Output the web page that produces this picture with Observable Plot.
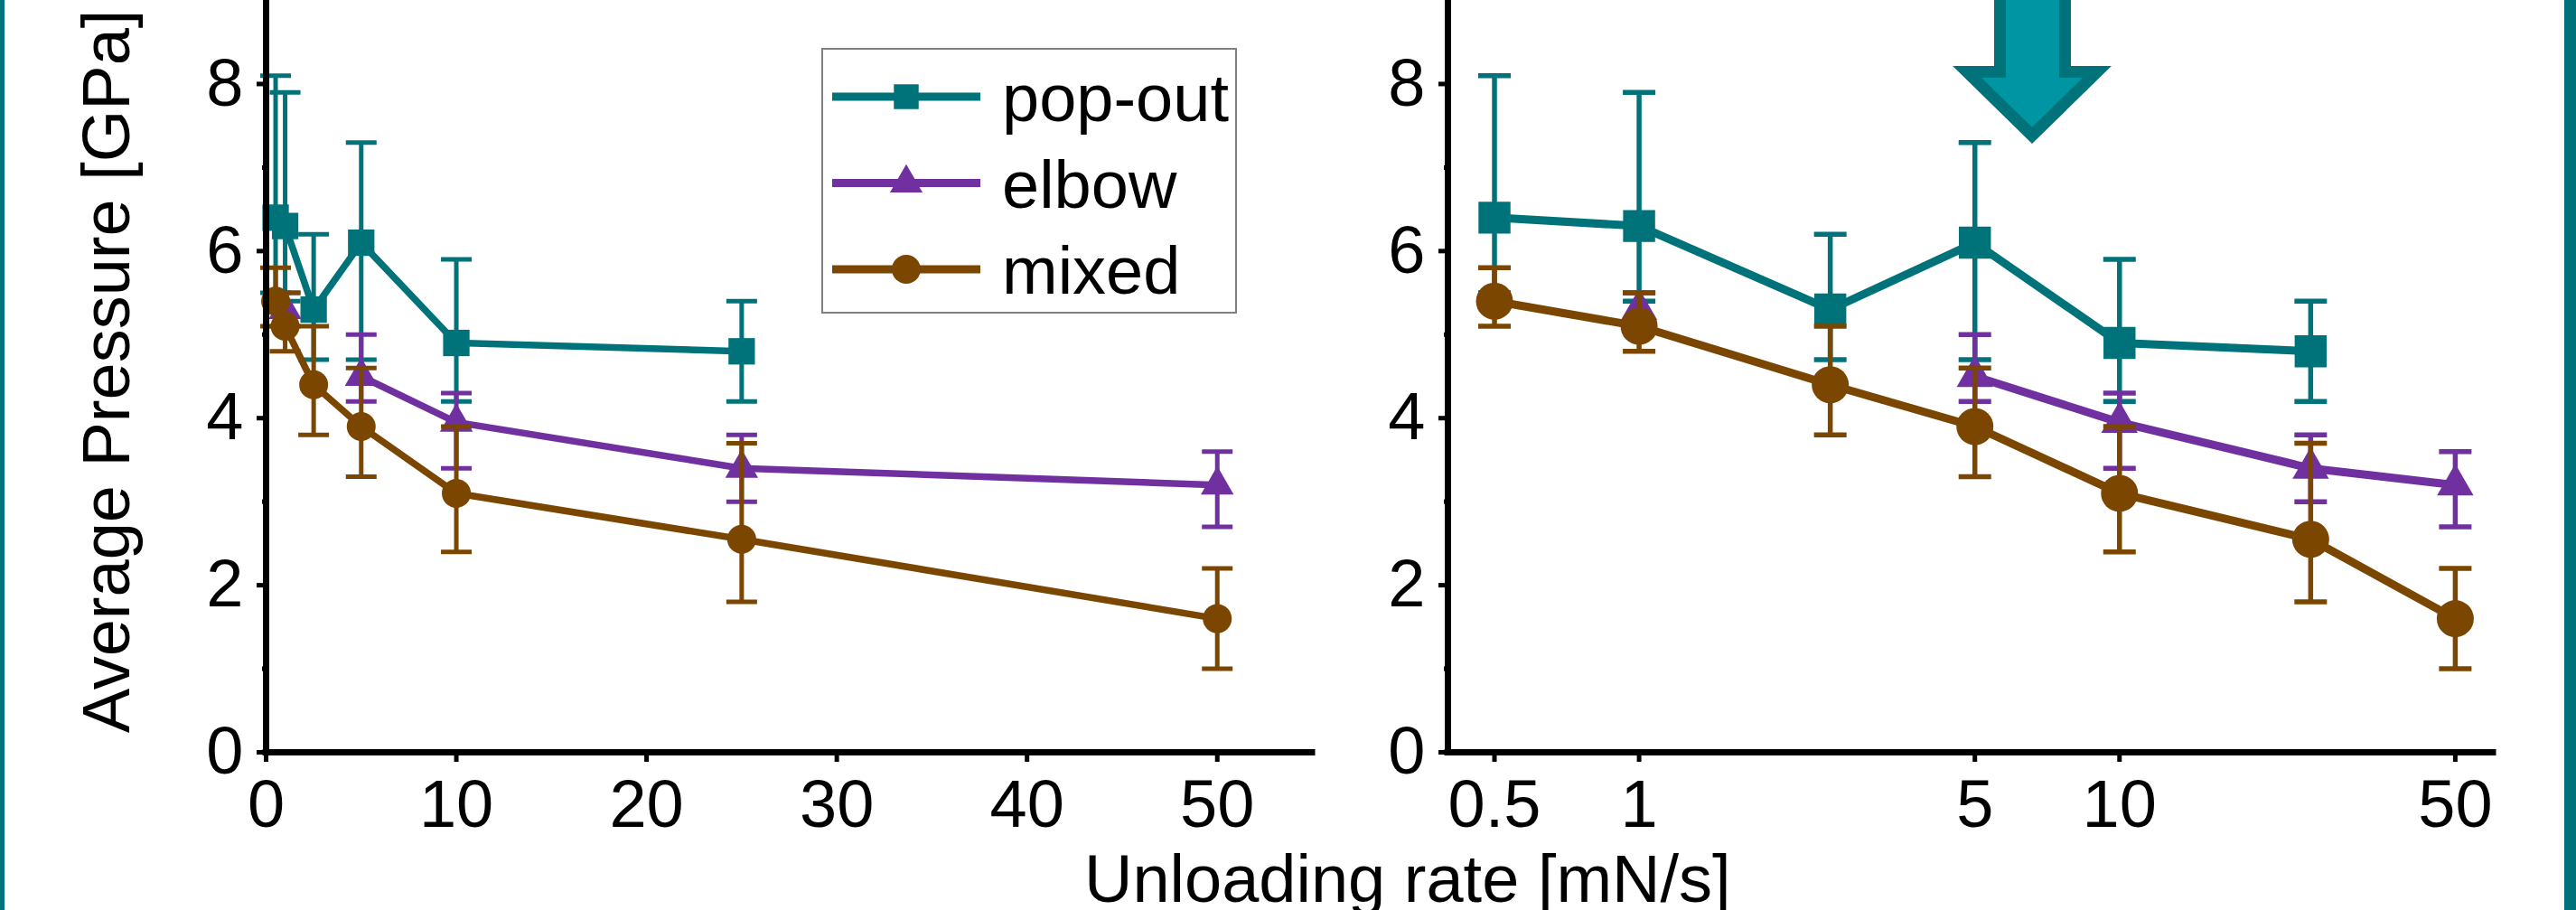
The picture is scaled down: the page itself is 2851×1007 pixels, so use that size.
<!DOCTYPE html>
<html><head><meta charset="utf-8">
<script src="https://cdn.jsdelivr.net/npm/d3@7"></script>
<script src="https://cdn.jsdelivr.net/npm/@observablehq/plot@0.6"></script>
<style>
html,body{margin:0;padding:0;background:#fff;}
#wrap{position:relative;width:2851px;height:1007px;overflow:hidden;background:#fff;font-family:"Liberation Sans",Arial,sans-serif;}
.layer{position:absolute;top:0;}
</style></head>
<body><div id="wrap"></div>
<script>
// ---- data ----
const popoutRate = [0.5, 1, 2.5, 5, 10, 25];
const popoutP    = [6.4, 6.3, 5.3, 6.1, 4.9, 4.8];
const popoutLo   = [5.5, 5.4, 4.7, 4.7, 4.2, 4.2];
const popoutHi   = [8.1, 7.9, 6.2, 7.3, 5.9, 5.4];

// elbow has no value at 2.5 mN/s (line is broken there)
const elbowRate = [1, 2.5, 5, 10, 25, 50];
const elbowP    = [5.3, null, 4.5, 3.95, 3.4, 3.2];
const elbowLo   = [5.1, null, 4.2, 3.4, 3.0, 2.7];
const elbowHi   = [5.5, null, 5.0, 4.3, 3.8, 3.6];

const mixedRate = [0.5, 1, 2.5, 5, 10, 25, 50];
const mixedP    = [5.4, 5.1, 4.4, 3.9, 3.1, 2.55, 1.6];
const mixedLo   = [5.1, 4.8, 3.8, 3.3, 2.4, 1.8, 1.0];
const mixedHi   = [5.8, 5.5, 5.1, 4.6, 3.9, 3.7, 2.2];

const seriesNames  = ["pop-out", "elbow", "mixed"];
const seriesColors = ["#00737A", "#7030A0", "#7B4600"];
const seriesSymbols = ["square", "triangle", "circle"];

const yMajor = [0, 2, 4, 6, 8];
const yMinor = [1, 3, 5, 7];
const linMajor = [0, 10, 20, 30, 40, 50];
const linMinor = [5, 15, 25, 35, 45, 55];
const logMajor = [0.5, 1, 5, 10, 50];
const logMinor = [0.6, 0.7, 0.8, 0.9, 2, 3, 4, 6, 7, 8, 9, 20, 30, 40, 60];

const yLabel = "Average Pressure [GPa]";
const xLabel = "Unloading rate [mN/s]";

// ---- build ----
function rows(name, rate, p, lo, hi) {
  return rate.map((x, i) => ({name, x, y: p[i], lo: lo[i], hi: hi[i]}));
}
const seriesList = [
  {data: rows("pop-out", popoutRate, popoutP, popoutLo, popoutHi)},
  {data: rows("elbow", elbowRate, elbowP, elbowLo, elbowHi)},
  {data: rows("mixed", mixedRate, mixedP, mixedLo, mixedHi)}
].map((s, i) => ({...s, name: seriesNames[i], color: seriesColors[i], symbol: seriesSymbols[i]}));

const capSymbol = {draw(ctx, size) { const r = Math.sqrt(size / Math.PI); ctx.moveTo(-r, 0); ctx.lineTo(r, 0); }};
const FONT = "Liberation Sans, Arial, sans-serif";

function panel({width, marginLeft, marginRight, xScale, xMajor, xMinor, lineW, errW, capR, sizes}) {
  const marks = [];
  for (const s of seriesList) {
    const d = s.data.filter(r => r.y != null);
    marks.push(Plot.ruleX(d, {x: "x", y1: "lo", y2: "hi", stroke: s.color, strokeWidth: errW}));
    marks.push(Plot.dot(d, {x: "x", y: "lo", symbol: capSymbol, r: capR, stroke: s.color, strokeWidth: errW, fill: "none"}));
    marks.push(Plot.dot(d, {x: "x", y: "hi", symbol: capSymbol, r: capR, stroke: s.color, strokeWidth: errW, fill: "none"}));
    marks.push(Plot.line(s.data, {x: "x", y: "y", stroke: s.color, strokeWidth: lineW}));
    marks.push(Plot.dot(d, {x: "x", y: "y", symbol: s.symbol, r: sizes[s.symbol], fill: s.color, stroke: "none"}));
  }
  marks.push(
    Plot.axisY(yMajor, {tickSize: 10, tickPadding: 15, strokeWidth: 5, fontSize: 74, label: null, tickFormat: d => String(d)}),
    Plot.axisY(yMinor, {tickSize: 4, strokeWidth: 5, fill: "none", label: null}),
    Plot.axisX(xMajor, {tickSize: 11, tickPadding: 19, strokeWidth: 5, fontSize: 74, label: null, tickFormat: d => String(d)}),
    Plot.axisX(xMinor, {tickSize: 4, strokeWidth: 5, fill: "none", label: null}),
    Plot.ruleX([xScale.domain[0]], {strokeWidth: 7, strokeLinecap: "square"}),
    Plot.ruleY([0], {strokeWidth: 7, strokeLinecap: "square"})
  );
  return Plot.plot({
    width, height: 1007,
    marginLeft, marginRight, marginTop: 0, marginBottom: 175,
    x: xScale,
    y: {domain: [0, 9]},
    style: {fontFamily: FONT, fontSize: "74px", color: "black", background: "transparent", overflow: "visible"},
    marks
  });
}

const wrap = document.getElementById("wrap");

const left = panel({
  width: 1500, marginLeft: 294, marginRight: 48,
  xScale: {type: "linear", domain: [0, 55]},
  xMajor: linMajor, xMinor: linMinor,
  lineW: 7.5, errW: 5, capR: 17,
  sizes: {square: 16.5, triangle: 13.5, circle: 16}
});
const leftDiv = document.createElement("div");
leftDiv.className = "layer"; leftDiv.style.left = "0px";
leftDiv.appendChild(left);
wrap.appendChild(leftDiv);

const right = panel({
  width: 1351, marginLeft: 102, marginRight: 92,
  xScale: {type: "log", domain: [0.4, 60]},
  xMajor: logMajor, xMinor: logMinor,
  lineW: 9, errW: 5.5, capR: 18,
  sizes: {square: 20, triangle: 15, circle: 20.5}
});
const rightDiv = document.createElement("div");
rightDiv.className = "layer"; rightDiv.style.left = "1500px";
rightDiv.appendChild(right);
wrap.appendChild(rightDiv);

// ---- overlay: frame, labels, legend, arrow ----
const svg = d3.select(wrap).append("svg").attr("class", "layer")
  .attr("width", 2851).attr("height", 1007).style("left", "0px")
  .style("font-family", FONT);

svg.append("rect").attr("x", 0).attr("y", -10).attr("width", 5).attr("height", 1030).attr("fill", "#00737A");
svg.append("rect").attr("x", 2838).attr("y", -10).attr("width", 13).attr("height", 1030).attr("fill", "#00737A");

svg.append("text").attr("transform", "translate(143,411) rotate(-90)")
  .attr("text-anchor", "middle").attr("font-size", 74).attr("fill", "black").text(yLabel);
svg.append("text").attr("x", 1200).attr("y", 998)
  .attr("font-size", 74).attr("fill", "black").text(xLabel);

// legend
const lg = svg.append("g");
lg.append("rect").attr("x", 910).attr("y", 54).attr("width", 458).attr("height", 292)
  .attr("fill", "white").attr("stroke", "#808080").attr("stroke-width", 2);
const symMap = {square: d3.symbolSquare, triangle: d3.symbolTriangle, circle: d3.symbolCircle};
const legSize = {square: 15.5, triangle: 13.4, circle: 16};
seriesList.forEach((s, i) => {
  const cy = 107 + i * 95.5;
  lg.append("line").attr("x1", 921).attr("x2", 1085).attr("y1", cy).attr("y2", cy)
    .attr("stroke", s.color).attr("stroke-width", 9);
  lg.append("path").attr("transform", `translate(1003,${cy})`)
    .attr("d", d3.symbol(symMap[s.symbol], Math.PI * legSize[s.symbol] ** 2)())
    .attr("fill", s.color);
  lg.append("text").attr("x", 1109).attr("y", cy + 27).attr("font-size", 74)
    .attr("fill", "black").text(s.name);
});

// arrow annotation
svg.append("path")
  .attr("d", "M2213.5,-20 L2213.5,79.5 L2177,79.5 L2249,150 L2321,79.5 L2285.5,79.5 L2285.5,-20 Z")
  .attr("fill", "#0095A3").attr("stroke", "#00727A").attr("stroke-width", 13)
  .attr("stroke-linejoin", "miter");
</script>
</body></html>
